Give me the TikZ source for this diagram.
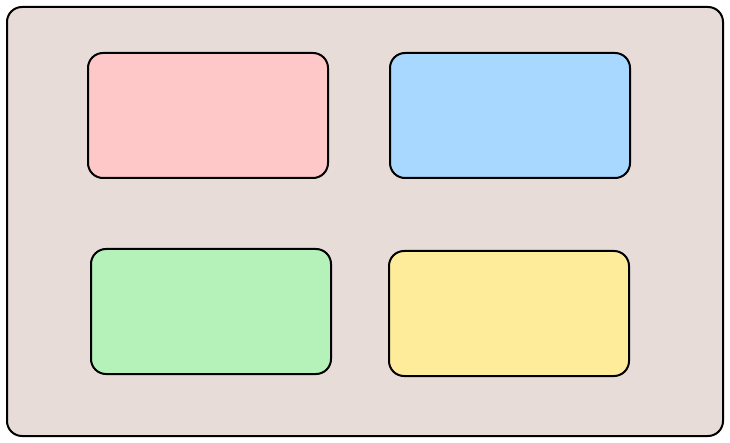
\documentclass[tikz,border=0pt]{standalone}
\begin{document}
\begin{tikzpicture}[x=1pt,y=-1pt,
  panel/.style={draw=black,line width=2pt,rounded corners=15pt,inner sep=0pt,
    minimum width=240pt,minimum height=125pt,anchor=north west},
  outerbox/.style={draw=black,line width=2pt,rounded corners=15pt,fill=bgc}]
\definecolor{bgc}{HTML}{E8DCD9}
\definecolor{pinkc}{HTML}{FFC8C8}
\definecolor{bluec}{HTML}{A8D8FF}
\definecolor{greenc}{HTML}{B4F2BA}
\definecolor{yellowc}{HTML}{FFEC9A}
\useasboundingbox (0,0) rectangle (730,443);
\draw[outerbox] (7,7) rectangle (723,436);
\node[panel,fill=pinkc] (pink) at (87,52) {};
\node[panel,fill=bluec] (blue) at (389,52) {};
\node[panel,fill=greenc] (green) at (90,248) {};
\node[panel,fill=yellowc] (yellow) at (388,250) {};
\end{tikzpicture}
\end{document}
